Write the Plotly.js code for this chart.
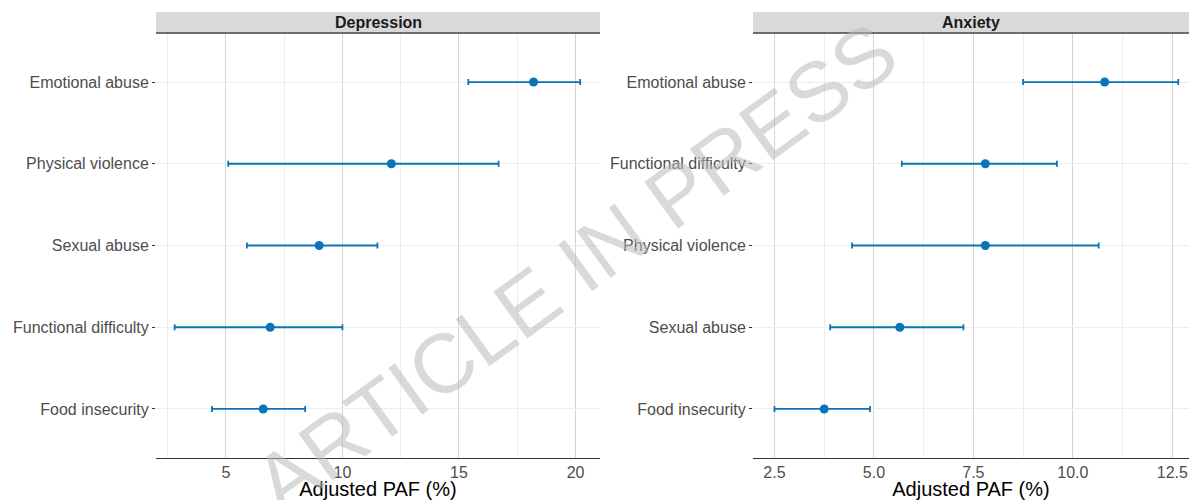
<!DOCTYPE html>
<html>
<head>
<meta charset="utf-8">
<script src="https://cdn.plot.ly/plotly-3.0.1.min.js"></script>
<style>html,body{margin:0;padding:0;background:#fff;}#chart{width:1198px;height:500px;}</style>
</head>
<body>
<div id="chart"></div>
<script>
// Depression panel (top to bottom order)
const depCategories = ["Emotional abuse", "Physical violence", "Sexual abuse", "Functional difficulty", "Food insecurity"];
const depPAF   = [18.2, 12.1, 9.0, 6.9, 6.6];
const depLower = [15.4, 5.1, 5.9, 2.8, 4.4];
const depUpper = [20.2, 16.7, 11.5, 10.0, 8.4];

// Anxiety panel (top to bottom order)
const anxCategories = ["Emotional abuse", "Functional difficulty", "Physical violence", "Sexual abuse", "Food insecurity"];
const anxPAF   = [10.8, 7.8, 7.8, 5.65, 3.75];
const anxLower = [8.75, 5.7, 4.45, 3.9, 2.5];
const anxUpper = [12.65, 9.6, 10.65, 7.25, 4.9];

const panelTitles = ["Depression", "Anxiety"];
const xTitle = "Adjusted PAF (%)";
const watermark = "ARTICLE IN PRESS";

const blue = "#0b74b6";
const FONT = "Liberation Sans, Arial, sans-serif";

function trace(cats, v, lo, hi, xa, ya) {
  return {
    type: "scatter", mode: "markers",
    x: v, y: cats, xaxis: xa, yaxis: ya,
    marker: {color: blue, size: 9},
    error_x: {
      type: "data", symmetric: false,
      array: v.map((d, i) => hi[i] - d),
      arrayminus: v.map((d, i) => d - lo[i]),
      color: blue, thickness: 1.8, width: 3
    },
    hoverinfo: "x+y", showlegend: false
  };
}

const data = [
  trace(depCategories, depPAF, depLower, depUpper, "x", "y"),
  trace(anxCategories, anxPAF, anxLower, anxUpper, "x2", "y2")
];

const W = 1198, H = 500;
const L1 = 156/W, R1 = 600/W, L2 = 753/W, R2 = 1189/W;
const yB = 1 - 458/H, yT = 1 - 33/H, sT = 1 - 12/H;

function xaxis(dom, range, dtick, minor, fmt, anchor) {
  return {
    domain: dom, range: range, anchor: anchor,
    tickmode: "linear", dtick: dtick, tick0: 0, tickformat: fmt,
    showgrid: true, gridcolor: "#d4d4d4", gridwidth: 1,
    minor: {dtick: minor, tick0: 0, showgrid: true, gridcolor: "#ededed", gridwidth: 1, ticks: ""},
    zeroline: false, showline: true, linecolor: "#333333", linewidth: 1.2,
    ticks: "", tickfont: {family: FONT, size: 16, color: "#4d4d4d"},
    title: {text: xTitle, font: {family: FONT, size: 20, color: "#000"}, standoff: 6},
    fixedrange: true
  };
}
function yaxis(dom, cats, anchor) {
  return {
    domain: dom, anchor: anchor,
    type: "category", categoryorder: "array", categoryarray: cats.slice().reverse(),
    range: [-0.6, 4.6],
    showgrid: true, gridcolor: "#ededed", gridwidth: 1,
    zeroline: false, showline: false,
    ticks: "outside", ticklen: 3, tickwidth: 1, tickcolor: "#333333",
    tickfont: {family: FONT, size: 16, color: "#4d4d4d"},
    fixedrange: true
  };
}

const layout = {
  width: W, height: H,
  margin: {l: 0, r: 0, t: 0, b: 0},
  paper_bgcolor: "#ffffff", plot_bgcolor: "#ffffff",
  font: {family: FONT},
  xaxis: xaxis([L1, R1], [2.0, 21.05], 5, 2.5, "d", "y"),
  yaxis: yaxis([yB, yT], depCategories, "x"),
  xaxis2: xaxis([L2, R2], [1.96, 12.92], 2.5, 1.25, ".1f", "y2"),
  yaxis2: yaxis([yB, yT], anxCategories, "x2"),
  shapes: [
    {type: "rect", xref: "paper", yref: "paper", x0: L1, x1: R1, y0: yT, y1: sT, fillcolor: "#d9d9d9", line: {width: 0}, layer: "below"},
    {type: "rect", xref: "paper", yref: "paper", x0: L2, x1: R2, y0: yT, y1: sT, fillcolor: "#d9d9d9", line: {width: 0}, layer: "below"},
    {type: "line", xref: "paper", yref: "paper", x0: L1, x1: R1, y0: yT, y1: yT, line: {color: "#444444", width: 1.5}},
    {type: "line", xref: "paper", yref: "paper", x0: L2, x1: R2, y0: yT, y1: yT, line: {color: "#444444", width: 1.5}}
  ],
  annotations: [
    {xref: "paper", yref: "paper", x: (L1 + R1)/2, y: (yT + sT)/2, text: "<b>" + panelTitles[0] + "</b>", showarrow: false, font: {family: FONT, size: 16, color: "#1a1a1a"}, xanchor: "center", yanchor: "middle"},
    {xref: "paper", yref: "paper", x: (L2 + R2)/2, y: (yT + sT)/2, text: "<b>" + panelTitles[1] + "</b>", showarrow: false, font: {family: FONT, size: 16, color: "#1a1a1a"}, xanchor: "center", yanchor: "middle"},
    {xref: "paper", yref: "paper", x: 575/W, y: 1 - 268/H, text: watermark, showarrow: false, textangle: -36, font: {family: FONT, size: 84, color: "rgba(185,185,185,0.55)"}, xanchor: "center", yanchor: "middle"}
  ]
};

Plotly.newPlot("chart", data, layout, {displayModeBar: false, staticPlot: true});
</script>
</body>
</html>
